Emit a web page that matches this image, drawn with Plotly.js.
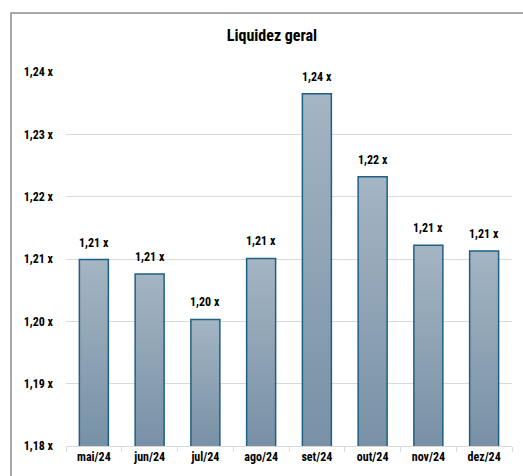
<!DOCTYPE html>
<html>
<head>
<meta charset="utf-8">
<script src="https://cdn.plot.ly/plotly-3.0.1.min.js"></script>
<style>html,body{margin:0;padding:0;background:#fff;}#chart{width:523px;height:476px;}</style>
</head>
<body>
<div id="chart"></div>
<script>
const categories = ["mai/24","jun/24","jul/24","ago/24","set/24","out/24","nov/24","dez/24"];
const values = [1.2099, 1.2076, 1.2003, 1.2101, 1.2365, 1.2232, 1.2122, 1.2113];
const tickValues = [1.18, 1.19, 1.20, 1.21, 1.22, 1.23, 1.24];
const tickLabels = ["1,18 x","1,19 x","1,20 x","1,21 x","1,22 x","1,23 x","1,24 x"];
const chartTitle = "Liquidez geral";

const fmt = v => v.toFixed(2).replace(".", ",") + " x";
const FONT = "'Liberation Sans Narrow', 'Roboto Condensed', Roboto, sans-serif";

const trace = {
  type: "bar",
  x: categories,
  y: values,
  marker: {color: "#8fa4b6", line: {color: "#1f5f85", width: 1.5}},
  width: 0.52,
  hoverinfo: "skip"
};

const labelAnnotations = categories.map((c, i) => ({
  x: c, y: values[i], xref: "x", yref: "y", text: "<b>" + fmt(values[i]) + "</b>",
  showarrow: false, yanchor: "bottom", yshift: 8,
  font: {family: FONT, size: 12, color: "#000"}
}));

const layout = {
  width: 523, height: 476,
  margin: {l: 66, r: 11, t: 72, b: 30},
  paper_bgcolor: "#fff", plot_bgcolor: "#fff",
  title: {text: "<b>" + chartTitle + "</b>", x: 0.52, xanchor: "center", y: 0.925, yanchor: "middle",
          font: {family: FONT, size: 16, color: "#000"}},
  showlegend: false,
  annotations: labelAnnotations,
  xaxis: {
    type: "category", tickson: "boundaries", ticks: "outside", ticklen: 5, tickcolor: "#d9d9d9",
    showline: true, linecolor: "#d9d9d9", linewidth: 1, showgrid: false,
    tickfont: {family: FONT, size: 12, color: "#000", weight: "bold"}, fixedrange: true
  },
  yaxis: {
    range: [1.18, 1.24], tickvals: tickValues, ticktext: tickLabels,
    showgrid: true, gridcolor: "#d9d9d9", gridwidth: 1, zeroline: false, showline: false,
    ticks: "", ticklabelstandoff: 12,
    tickfont: {family: FONT, size: 12, color: "#000", weight: "bold"}, fixedrange: true
  },
  shapes: [{type: "rect", xref: "paper", yref: "paper", x0: -0.1233, x1: 1.1, y0: -0.3, y1: 1.1578,
            line: {color: "#8c8c8c", width: 1.5}, fillcolor: "rgba(0,0,0,0)", layer: "above"}]
};

function applyGradient(gd) {
  const ns = "http://www.w3.org/2000/svg";
  const svg = gd.querySelector("svg.main-svg");
  const defs = document.createElementNS(ns, "defs");
  svg.insertBefore(defs, svg.firstChild);
  const bottom = gd._fullLayout.yaxis._length;
  gd.querySelectorAll("g.point path").forEach((p, i) => {
    const bb = p.getBBox();
    const g = document.createElementNS(ns, "linearGradient");
    g.setAttribute("id", "barGrad" + i);
    g.setAttribute("gradientUnits", "userSpaceOnUse");
    g.setAttribute("x1", "0"); g.setAttribute("x2", "0");
    g.setAttribute("y1", String(bb.y)); g.setAttribute("y2", String(bottom));
    [["0", "#a4b5c3"], ["1", "#7891a6"]].forEach(([o, c]) => {
      const s = document.createElementNS(ns, "stop");
      s.setAttribute("offset", o); s.setAttribute("stop-color", c);
      g.appendChild(s);
    });
    defs.appendChild(g);
    p.style.fill = "url(#barGrad" + i + ")";
  });
}

Plotly.newPlot("chart", [trace], layout, {staticPlot: true, displayModeBar: false}).then(gd => {
  applyGradient(gd);
});
</script>
</body>
</html>
